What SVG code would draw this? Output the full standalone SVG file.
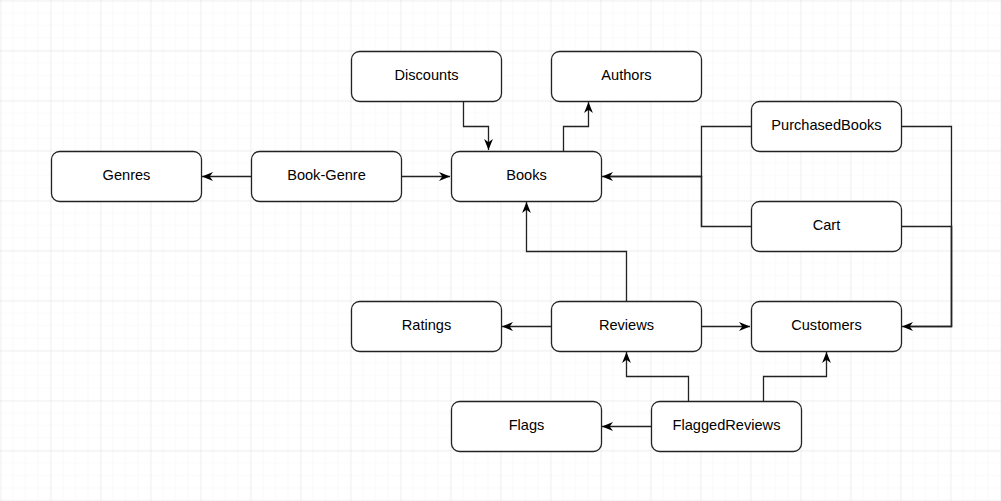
<svg xmlns="http://www.w3.org/2000/svg" width="1001" height="501" viewBox="0 0 1001 501">
<defs>
<pattern id="minor" width="12.5" height="12.5" patternUnits="userSpaceOnUse" x="0.5" y="0.5">
<path d="M12.5 0V12.5M0 12.5H12.5" fill="none" stroke="#f3f3f3" stroke-width="1"/>
</pattern>
<pattern id="major" width="50" height="50" patternUnits="userSpaceOnUse" x="0.5" y="0.5">
<rect width="50" height="50" fill="url(#minor)"/>
<path d="M0 0V50M0 0H50" fill="none" stroke="#e3e3e3" stroke-width="1"/>
</pattern>
<marker id="arr" viewBox="0 0 10 10" refX="10" refY="5" markerWidth="11" markerHeight="11" markerUnits="userSpaceOnUse" orient="auto">
<path d="M0 1 L10 5 L0 9 L3 5 Z" fill="#000"/>
</marker>
</defs>
<style>
.node rect{fill:#fff;stroke:#222;stroke-width:1.3}
.node text{font-family:"Liberation Sans",Arial,sans-serif;font-size:14.6px;fill:#000;text-anchor:middle;dominant-baseline:central}
#connectors path{fill:none;stroke:#222;stroke-width:1.3}
#connectors path.a{marker-end:url(#arr)}
</style>
<rect width="1001" height="501" fill="#fff"/>
<rect width="1001" height="501" fill="url(#major)"/>
<g id="connectors">
<path class="a" d="M463.5 101.5V126.5H488.5V150"/>
<path class="a" d="M563.5 151.5V126.5H588.5V102"/>
<path class="a" d="M251.5 176.5H202"/>
<path class="a" d="M401.5 176.5H450"/>
<path class="a" d="M751.5 126.5H701.5V176.5H602"/>
<path d="M751.5 226.5H701.5V176.5H610" style="stroke-width:1.6"/>
<path class="a" d="M901.5 126.5H951.5V326.5H902"/>
<path d="M901.5 226.5H951.5V326.5H910" style="stroke-width:1.6"/>
<path class="a" d="M626.5 301.5V251.5H526.5V202"/>
<path class="a" d="M551.5 326.5H502"/>
<path class="a" d="M701.5 326.5H750"/>
<path class="a" d="M688.5 401.5V376.5H626.5V352"/>
<path class="a" d="M763.5 401.5V376.5H826.5V352"/>
<path class="a" d="M651.5 426.5H602"/>
</g>
<g id="genres" class="node"><rect x="51.5" y="151.5" width="150" height="50" rx="8"/><text x="126.5" y="174.5">Genres</text></g>
<g id="book-genre" class="node"><rect x="251.5" y="151.5" width="150" height="50" rx="8"/><text x="326.5" y="174.5">Book-Genre</text></g>
<g id="books" class="node"><rect x="451.5" y="151.5" width="150" height="50" rx="8"/><text x="526.5" y="174.5">Books</text></g>
<g id="discounts" class="node"><rect x="351.5" y="51.5" width="150" height="50" rx="8"/><text x="426.5" y="74.5">Discounts</text></g>
<g id="authors" class="node"><rect x="551.5" y="51.5" width="150" height="50" rx="8"/><text x="626.5" y="74.5">Authors</text></g>
<g id="purchasedbooks" class="node"><rect x="751.5" y="101.5" width="150" height="50" rx="8"/><text x="826.5" y="124.5">PurchasedBooks</text></g>
<g id="cart" class="node"><rect x="751.5" y="201.5" width="150" height="50" rx="8"/><text x="826.5" y="224.5">Cart</text></g>
<g id="ratings" class="node"><rect x="351.5" y="301.5" width="150" height="50" rx="8"/><text x="426.5" y="324.5">Ratings</text></g>
<g id="reviews" class="node"><rect x="551.5" y="301.5" width="150" height="50" rx="8"/><text x="626.5" y="324.5">Reviews</text></g>
<g id="customers" class="node"><rect x="751.5" y="301.5" width="150" height="50" rx="8"/><text x="826.5" y="324.5">Customers</text></g>
<g id="flags" class="node"><rect x="451.5" y="401.5" width="150" height="50" rx="8"/><text x="526.5" y="424.5">Flags</text></g>
<g id="flaggedreviews" class="node"><rect x="651.5" y="401.5" width="150" height="50" rx="8"/><text x="726.5" y="424.5">FlaggedReviews</text></g>
</svg>
